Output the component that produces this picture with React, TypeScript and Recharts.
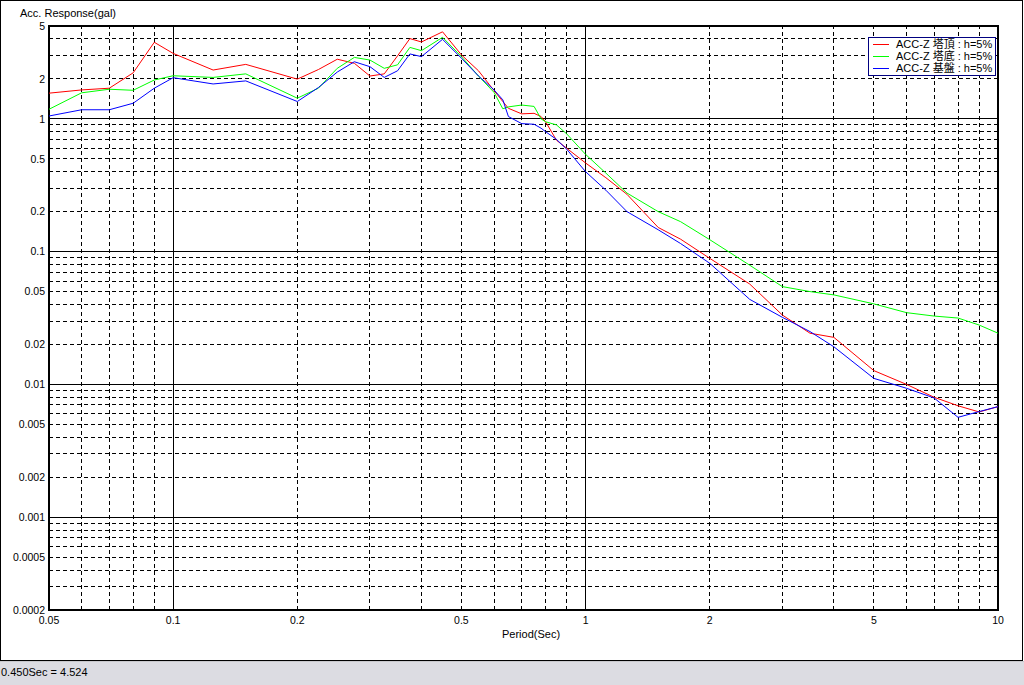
import React from 'react';
import { LineChart, Line, XAxis, YAxis, ReferenceLine, ReferenceArea, Legend } from 'recharts';

const periods = [0.05, 0.06, 0.07, 0.08, 0.09, 0.1, 0.125, 0.15, 0.2, 0.225, 0.25, 0.275, 0.3, 0.325, 0.35, 0.375, 0.4, 0.45, 0.5, 0.55, 0.6, 0.63, 0.65, 0.7, 0.75, 0.78, 0.8, 0.85, 0.9, 1.0, 1.12, 1.26, 1.5, 1.7, 2, 2.5, 3, 3.5, 4, 5, 6, 7, 8, 9, 10];

const towerTop = [1.56, 1.65, 1.70, 2.22, 3.77, 3.11, 2.33, 2.57, 1.99, 2.35, 2.81, 2.62, 2.10, 2.18, 2.98, 4.02, 3.79, 4.52, 3.03, 2.30, 1.63, 1.35, 1.20, 1.09, 1.10, 1.04, 0.95, 0.69, 0.60, 0.465, 0.36, 0.27, 0.152, 0.124, 0.089, 0.057, 0.0333, 0.0243, 0.0226, 0.0127, 0.0100, 0.0080, 0.0069, 0.0062, 0.0068];

const towerBase = [1.18, 1.57, 1.67, 1.64, 1.96, 2.11, 2.05, 2.18, 1.43, 1.70, 2.40, 2.90, 2.77, 2.40, 2.55, 3.45, 3.26, 4.11, 2.94, 2.10, 1.58, 1.19, 1.23, 1.27, 1.24, 1.00, 0.95, 0.90, 0.77, 0.54, 0.39, 0.276, 0.20, 0.168, 0.123, 0.079, 0.0545, 0.050, 0.0472, 0.0404, 0.0347, 0.0327, 0.0316, 0.028, 0.0243];

const bedrock = [1.05, 1.17, 1.17, 1.31, 1.70, 2.04, 1.83, 1.93, 1.35, 1.72, 2.25, 2.69, 2.47, 2.05, 2.30, 3.08, 2.94, 3.97, 2.86, 2.10, 1.65, 1.39, 1.04, 0.92, 0.91, 0.85, 0.80, 0.70, 0.59, 0.40, 0.29, 0.20, 0.146, 0.115, 0.0817, 0.0437, 0.032, 0.025, 0.0192, 0.0111, 0.00935, 0.0079, 0.00565, 0.00624, 0.0068];

const seriesNames = ['ACC-Z 塔頂 : h=5%', 'ACC-Z 塔底 : h=5%', 'ACC-Z 基盤 : h=5%'];
const seriesColors = ['#ff0000', '#00ff00', '#0000ff'];

const xTicks = [0.05, 0.1, 0.2, 0.5, 1, 2, 5, 10];
const yTicks = [5, 2, 1, 0.5, 0.2, 0.1, 0.05, 0.02, 0.01, 0.005, 0.002, 0.001, 0.0005, 0.0002];

const xMajor = [0.1, 1];
const xMinor = [0.06, 0.07, 0.08, 0.09, 0.2, 0.3, 0.4, 0.5, 0.6, 0.7, 0.8, 0.9, 2, 3, 4, 5, 6, 7, 8, 9];
const yMajor = [1, 0.1, 0.01, 0.001];
const yMinor = [4, 3, 2, 0.9, 0.8, 0.7, 0.6, 0.5, 0.4, 0.3, 0.2, 0.09, 0.08, 0.07, 0.06, 0.05, 0.04, 0.03, 0.02, 0.009, 0.008, 0.007, 0.006, 0.005, 0.004, 0.003, 0.002, 0.0009, 0.0008, 0.0007, 0.0006, 0.0005, 0.0004, 0.0003];

const data = periods.map((p, i) => ({ period: p, top: towerTop[i], base: towerBase[i], rock: bedrock[i] }));

const FONT = '"Liberation Sans", Arial, "Noto Sans CJK JP", sans-serif';

const renderLegend = () => (
  <div
    style={{
      width: 128,
      height: 39,
      boxSizing: 'border-box',
      border: '1px solid #000080',
      background: '#fff',
      paddingTop: 0,
      fontFamily: FONT,
      fontSize: 11,
      color: '#000',
    }}
  >
    {seriesNames.map((n, i) => (
      <div key={n} style={{ height: 12, lineHeight: '12px', display: 'flex', alignItems: 'center', whiteSpace: 'nowrap' }}>
        <span style={{ display: 'inline-block', width: 16, height: 1, background: seriesColors[i], marginLeft: 4, marginRight: 7 }} />
        <span>{n}</span>
      </div>
    ))}
  </div>
);

export default function App() {
  return (
    <div style={{ position: 'fixed', left: 0, top: 0, width: 1024, height: 685, background: '#fff', overflow: 'hidden' }}>
      <div style={{ position: 'absolute', left: 0, top: 0, width: 1023, height: 661, boxSizing: 'border-box', border: '1px solid #000' }} />
      <div style={{ position: 'absolute', left: 0, top: 661, width: 1024, height: 24, background: '#dcdce2', borderTop: '1px solid #c8c8cc', boxSizing: 'border-box' }} />
      <div style={{ position: 'absolute', left: 0, top: 0 }}>
        <LineChart width={1024} height={660} data={data} margin={{ top: 26, right: 26, bottom: 20, left: 4 }}>
          <XAxis
            dataKey="period"
            type="number"
            scale="log"
            domain={[0.05, 10]}
            allowDataOverflow
            ticks={xTicks}
            interval={0}
            height={30}
            axisLine={false}
            tickLine={false}
            tickSize={6}
            tickMargin={1}
            tick={{ fill: '#000', fontSize: 10.5, fontFamily: FONT }}
          />
          <YAxis
            type="number"
            scale="log"
            domain={[0.0002, 5]}
            allowDataOverflow
            ticks={yTicks}
            interval={0}
            width={45}
            axisLine={false}
            tickLine={false}
            tickSize={3}
            tickMargin={1}
            tickFormatter={(v: number) => String(v)}
            tick={{ fill: '#000', fontSize: 10.5, fontFamily: FONT }}
          />
          {xMinor.map((v, i) => (
            <ReferenceLine key={'xm' + i} x={v} stroke="#000" strokeWidth={1} strokeDasharray="4 3" shapeRendering="crispEdges" />
          ))}
          {yMinor.map((v, i) => (
            <ReferenceLine key={'ym' + i} y={v} stroke="#000" strokeWidth={1} strokeDasharray="4 3" shapeRendering="crispEdges" />
          ))}
          {xMajor.map((v, i) => (
            <ReferenceLine key={'xM' + i} x={v} stroke="#000" strokeWidth={1} shapeRendering="crispEdges" />
          ))}
          {yMajor.map((v, i) => (
            <ReferenceLine key={'yM' + i} y={v} stroke="#000" strokeWidth={1} shapeRendering="crispEdges" />
          ))}
          <ReferenceArea x1={0.05} x2={10} y1={0.0002} y2={5} fill="none" stroke="#000" strokeWidth={2} ifOverflow="visible" />
          <Line type="linear" dataKey="top" name={seriesNames[0]} stroke={seriesColors[0]} strokeWidth={1} dot={false} isAnimationActive={false} />
          <Line type="linear" dataKey="base" name={seriesNames[1]} stroke={seriesColors[1]} strokeWidth={1} dot={false} isAnimationActive={false} />
          <Line type="linear" dataKey="rock" name={seriesNames[2]} stroke={seriesColors[2]} strokeWidth={1} dot={false} isAnimationActive={false} />
          <Legend
            layout="horizontal"
            verticalAlign="middle"
            align="center"
            content={renderLegend}
            wrapperStyle={{ position: 'absolute', left: 868, top: 37, width: 128, height: 39 }}
          />
        </LineChart>
      </div>
      <div style={{ position: 'absolute', left: 20, top: 8, fontFamily: FONT, fontSize: 11, lineHeight: '11px', color: '#000', whiteSpace: 'nowrap' }}>
        Acc. Response(gal)
      </div>
      <div style={{ position: 'absolute', left: 502, top: 629, fontFamily: FONT, fontSize: 11, lineHeight: '11px', color: '#000', whiteSpace: 'nowrap' }}>
        Period(Sec)
      </div>
      <div style={{ position: 'absolute', left: 1, top: 667, fontFamily: FONT, fontSize: 11, lineHeight: '11px', color: '#000', whiteSpace: 'nowrap' }}>
        0.450Sec = 4.524
      </div>
    </div>
  );
}
